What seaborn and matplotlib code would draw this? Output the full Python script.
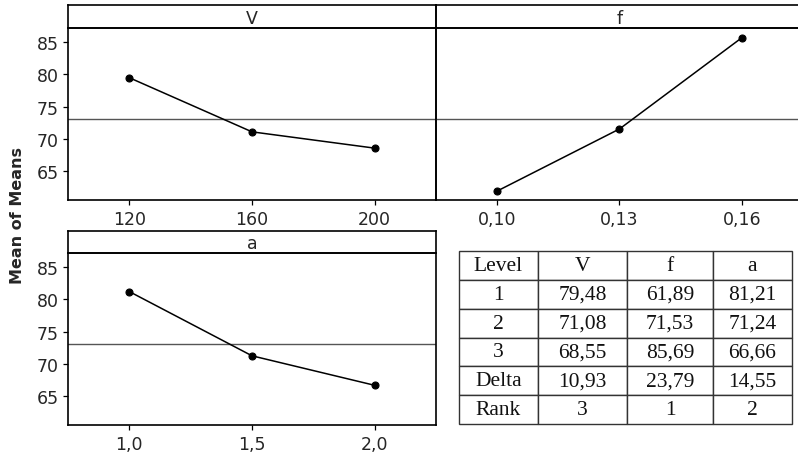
import numpy as np
import matplotlib
matplotlib.use("Agg")
import matplotlib.pyplot as plt
import seaborn as sns

# main effects data (mean of means per level)
factors = ["V", "f", "a"]
v_levels = ["120", "160", "200"]
v_means = [79.48, 71.08, 68.55]
f_levels = ["0,10", "0,13", "0,16"]
f_means = [61.89, 71.53, 85.69]
a_levels = ["1,0", "1,5", "2,0"]
a_means = [81.21, 71.24, 66.66]
delta = [10.93, 23.79, 14.55]
rank = [3, 1, 2]

W, H = 798, 460
sns.set_style("white")
plt.rcParams["font.family"] = ["DejaVu Sans"]

fig = plt.figure(figsize=(W / 100, H / 100), dpi=100)


def px(x0, y0, x1, y1):
    return [x0 / W, 1 - y1 / H, (x1 - x0) / W, (y1 - y0) / H]


grand_mean = np.mean(v_means)


def panel(rect, strip_rect, levels, means, title, show_y):
    ax = fig.add_axes(rect)
    ax.patch.set_alpha(0)
    sns.pointplot(x=levels, y=means, ax=ax, color="black", markers="o",
                  markersize=5, linewidth=1.1, errorbar=None)
    ax.axhline(grand_mean, color="#555555", lw=1.0, zorder=0)
    ax.set_xlim(-0.5, 2.5)
    ax.set_ylim(60.5, 87.2)
    ax.set_yticks([65, 70, 75, 80, 85])
    ax.set_xlabel("")
    ax.set_ylabel("")
    for s in ax.spines.values():
        s.set_color("black")
        s.set_linewidth(1.2)
    ax.tick_params(axis="x", direction="out", length=3.5, width=0.9,
                   labelsize=12.5, color="black", bottom=True, pad=4)
    if show_y:
        ax.tick_params(axis="y", direction="out", length=3.5, width=0.9,
                       labelsize=12.5, color="black", left=True, pad=3)
    else:
        ax.tick_params(axis="y", left=False, labelleft=False)
    st = fig.add_axes(strip_rect)
    st.patch.set_alpha(0)
    st.set_xticks([])
    st.set_yticks([])
    for s in st.spines.values():
        s.set_color("black")
        s.set_linewidth(1.2)
    st.text(0.5, 0.45, title, ha="center", va="center", fontsize=12.5,
            transform=st.transAxes)
    return ax


panel(px(68, 29, 436, 201), px(68, 6, 436, 29), v_levels, v_means, "V", True)
panel(px(436, 29, 803, 201), px(436, 6, 803, 29), f_levels, f_means, "f", False)
panel(px(68, 254, 436, 426), px(68, 232, 436, 254), a_levels, a_means, "a", True)

fig.text(18 / W, 1 - 216 / H, "Mean of Means", rotation=90, ha="center",
         va="center", fontsize=11.5, fontweight="bold")

# table of response means
def fmt(v):
    return f"{v:.2f}".replace(".", ",")

cells = [["Level"] + factors]
for i in range(3):
    cells.append([str(i + 1), fmt(v_means[i]), fmt(f_means[i]), fmt(a_means[i])])
cells.append(["Delta"] + [fmt(d) for d in delta])
cells.append(["Rank"] + [str(r) for r in rank])

tax = fig.add_axes(px(459, 252, 792, 425))
tax.axis("off")
tbl = tax.table(cellText=cells, cellLoc="center", bbox=[0, 0, 1, 1],
                colWidths=[79, 89, 86, 79])
tbl.auto_set_font_size(False)
for (r, c), cell in tbl.get_celld().items():
    cell.set_linewidth(1.0)
    cell.set_edgecolor("#333333")
    cell.get_text().set_fontsize(15.5)
    cell.get_text().set_fontfamily("Liberation Serif")
    cell.get_text().set_color("#111111")

fig.savefig("out.png", dpi=100)
